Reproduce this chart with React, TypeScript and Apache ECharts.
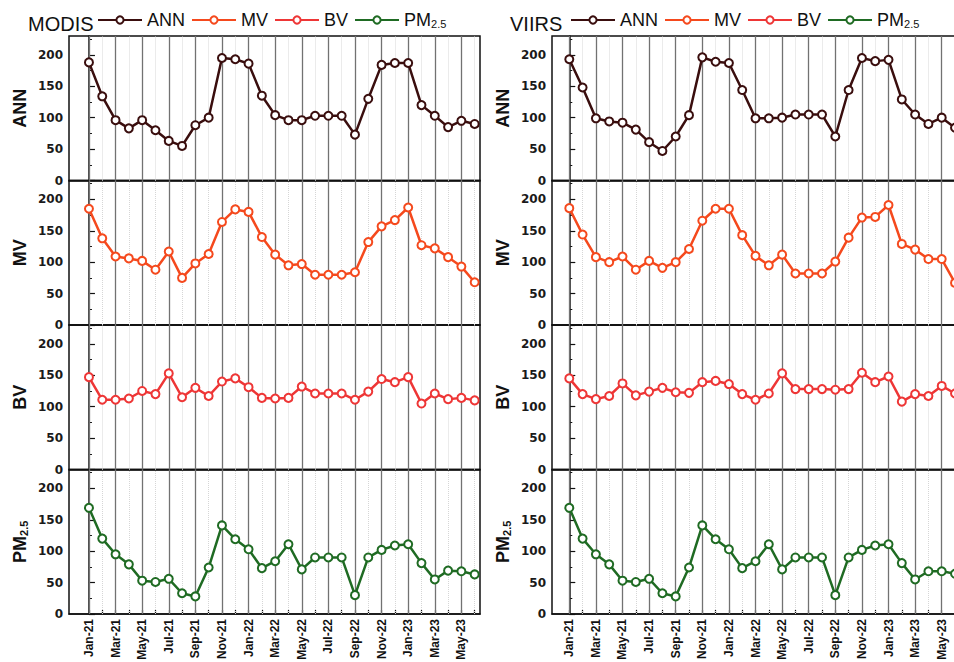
import React, { useEffect, useRef } from 'react';
import * as echarts from 'echarts';

const months = [
  'Jan-21', 'Feb-21', 'Mar-21', 'Apr-21', 'May-21', 'Jun-21', 'Jul-21', 'Aug-21', 'Sep-21', 'Oct-21', 'Nov-21', 'Dec-21',
  'Jan-22', 'Feb-22', 'Mar-22', 'Apr-22', 'May-22', 'Jun-22', 'Jul-22', 'Aug-22', 'Sep-22', 'Oct-22', 'Nov-22', 'Dec-22',
  'Jan-23', 'Feb-23', 'Mar-23', 'Apr-23', 'May-23', 'Jun-23',
];
const yTicks = [0, 50, 100, 150, 200];
const rowNames = ['ANN', 'MV', 'BV', 'PM2.5'];

const modisANN = [188, 134, 96, 83, 96, 80, 63, 55, 88, 100, 195, 193, 186, 135, 104, 96, 96, 103, 103, 103, 73, 130, 184, 187, 187, 120, 103, 85, 95, 90];
const modisMV = [185, 138, 109, 106, 102, 88, 117, 75, 98, 113, 164, 184, 180, 140, 112, 95, 97, 80, 80, 80, 84, 132, 157, 167, 187, 127, 122, 108, 93, 68];
const modisBV = [147, 111, 111, 113, 125, 120, 153, 115, 130, 117, 140, 145, 131, 114, 113, 114, 132, 121, 121, 121, 111, 124, 144, 139, 147, 105, 121, 112, 114, 110];
const modisPM = [169, 120, 95, 79, 53, 51, 56, 33, 28, 74, 141, 119, 103, 73, 84, 111, 71, 90, 90, 90, 30, 90, 102, 109, 111, 81, 55, 69, 68, 63];

const viirsANN = [193, 148, 99, 94, 92, 81, 61, 47, 70, 104, 196, 189, 187, 144, 99, 99, 100, 105, 105, 105, 70, 144, 195, 190, 192, 129, 105, 90, 100, 84];
const viirsMV = [186, 144, 108, 100, 109, 88, 102, 91, 100, 121, 166, 185, 185, 143, 110, 95, 112, 82, 82, 82, 101, 139, 171, 172, 191, 129, 120, 105, 105, 67];
const viirsBV = [145, 120, 112, 117, 137, 118, 124, 130, 123, 122, 139, 141, 136, 120, 111, 121, 153, 128, 128, 128, 127, 128, 154, 139, 148, 108, 120, 117, 133, 121];
const viirsPM = [169, 120, 95, 79, 53, 51, 56, 33, 28, 74, 141, 119, 103, 73, 84, 111, 71, 90, 90, 90, 30, 90, 102, 109, 111, 81, 55, 68, 68, 64];

const colors = ['#3a0e0e', '#f5491d', '#ee3636', '#1f6b23'];

const FONT = 'Liberation Sans, Arial, sans-serif';

export default function App() {
  const ref = useRef<HTMLDivElement>(null);
  useEffect(() => {
    if (!ref.current) return;
    const chart = echarts.init(ref.current, undefined, { renderer: 'svg' });

    const panels = [
      { title: 'MODIS', left: 69, min: -1.5, titleLeft: 28, legendLeft: 97, data: [modisANN, modisMV, modisBV, modisPM] },
      { title: 'VIIRS', left: 552, min: -1.3, titleLeft: 510, legendLeft: 570, data: [viirsANN, viirsMV, viirsBV, viirsPM] },
    ];
    const top0 = 36;
    const rowH = 144.5;
    const gridW = 411;
    const span = 30.9;

    const allIdx = months.map((_, i) => i);
    const evenIdx = allIdx.filter((i) => i % 2 === 0);

    const rich = {
      a: { fontSize: 18, lineHeight: 18, fontFamily: FONT },
      b: { fontSize: 11, lineHeight: 11, fontFamily: FONT, verticalAlign: 'bottom', padding: [20, 0, 0, 0] },
    };
    const richBold = {
      a: { fontSize: 18, lineHeight: 18, fontFamily: FONT, fontWeight: 'bold', color: '#111' },
      b: { fontSize: 11, lineHeight: 11, fontFamily: FONT, fontWeight: 'bold', color: '#111', verticalAlign: 'bottom', padding: [20, 0, 0, 0] },
    };
    const fmtName = (n: string) => (n === 'PM2.5' ? '{a|PM}{b|2.5}' : n);

    const grid: any[] = [];
    const xAxis: any[] = [];
    const yAxis: any[] = [];
    const series: any[] = [];

    panels.forEach((p, pi) => {
      p.data.forEach((vals, r) => {
        const gi = pi * 4 + r;
        grid.push({
          left: p.left,
          top: top0 + r * rowH,
          width: gridW,
          height: rowH,
          show: true,
          borderColor: '#111',
          borderWidth: 1.5,
          backgroundColor: 'transparent',
          containLabel: false,
          outerBoundsMode: 'none',
        });
        xAxis.push({
          type: 'value',
          gridIndex: gi,
          min: p.min,
          max: p.min + span,
          axisLine: { show: true, onZero: false, lineStyle: { color: '#111', width: 1.5 } },
          axisTick: {
            show: r === 3,
            inside: true,
            length: 4,
            customValues: allIdx,
            lineStyle: { color: '#111', width: 1.2 },
          },
          axisLabel: {
            show: r === 3,
            customValues: evenIdx,
            rotate: 90,
            margin: 5,
            hideOverlap: false,
            formatter: (v: number) => months[Math.round(v)] ?? '',
            fontFamily: FONT,
            fontWeight: 'bold',
            fontSize: 12,
            color: '#111',
          },
          splitLine: { show: false },
        });
        yAxis.push({
          type: 'value',
          gridIndex: gi,
          min: 0,
          max: 230,
          interval: 50,
          name: fmtName(rowNames[r]),
          nameLocation: 'middle',
          nameGap: 40,
          nameTextStyle: {
            fontFamily: FONT,
            fontWeight: 'bold',
            fontSize: 18,
            color: '#111',
            rich: richBold,
          },
          axisLine: { show: true, lineStyle: { color: '#111', width: 1.5 } },
          axisTick: {
            inside: true,
            length: 6,
            customValues: yTicks,
            lineStyle: { color: '#111', width: 1.2 },
          },
          minorTick: { show: true, splitNumber: 2, length: 3, lineStyle: { color: '#111', width: 1 } },
          axisLabel: {
            customValues: yTicks,
            fontFamily: 'DejaVu Sans',
            fontWeight: 'bold',
            fontSize: 12,
            color: '#1a1a1a',
            margin: 6,
          },
          splitLine: { show: false },
          minorSplitLine: { show: false },
        });
        series.push({
          type: 'line',
          name: rowNames[r],
          xAxisIndex: gi,
          yAxisIndex: gi,
          data: vals.map((v, i) => [i, v]),
          symbol: 'emptyCircle',
          symbolSize: 8,
          showSymbol: true,
          clip: true,
          z: 3,
          lineStyle: { color: colors[r], width: 2.5 },
          itemStyle: { color: colors[r], borderWidth: 1.6 },
          markLine: {
            silent: true,
            z: 1,
            symbol: ['none', 'none'],
            label: { show: false },
            emphasis: { disabled: true },
            data: allIdx.map((i) => ({
              xAxis: i,
              lineStyle:
                i % 2 === 0
                  ? { color: '#727272', width: 1.3, type: 'solid' }
                  : { color: '#d6d6d6', width: 1, type: 'dotted' },
            })),
          },
        });
      });
    });

    const option: any = {
      animation: false,
      backgroundColor: '#ffffff',
      title: panels.map((p) => ({
        text: p.title,
        left: p.titleLeft,
        top: 14,
        padding: 0,
        textStyle: { fontFamily: FONT, fontSize: 20, fontWeight: 'normal', color: '#111' },
      })),
      legend: panels.map((p) => ({
        data: rowNames,
        left: p.legendLeft,
        top: -2,
        padding: 0,
        itemWidth: 44,
        itemHeight: 9,
        itemGap: 6,
        selectedMode: false,
        formatter: fmtName,
        textStyle: { fontFamily: FONT, fontSize: 18, color: '#111', rich },
      })),
      grid,
      xAxis,
      yAxis,
      series,
    };
    chart.setOption(option);
    return () => chart.dispose();
  }, []);
  return <div ref={ref} style={{ position: 'absolute', left: 0, top: 0, width: 954, height: 662 }} />;
}
